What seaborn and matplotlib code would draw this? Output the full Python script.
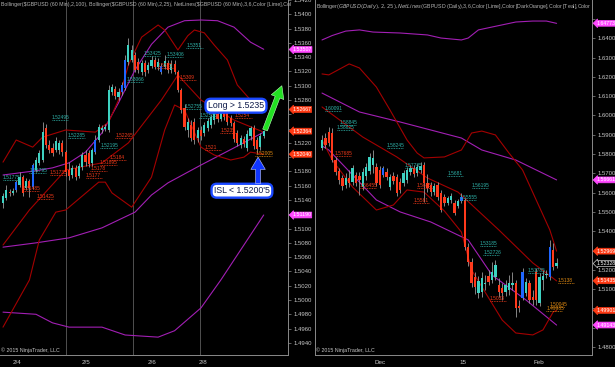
import numpy as np
import matplotlib
matplotlib.use("Agg")
import matplotlib.pyplot as plt
from matplotlib.ticker import FixedLocator, FuncFormatter
import seaborn as sns

# ---------------- LEFT: GBPUSD 60 Min ----------------
l_open = [1.5136,1.5143,1.5151,1.5150,1.5154,1.5161,1.5172,1.5157,1.5167,1.5158,
          1.5182,1.5192,1.5196,1.5241,1.5217,1.5213,1.5210,1.5210,1.5220,1.5207,
          1.5182,1.5175,1.5185,1.5174,1.5186,1.5203,1.5206,1.5192,1.5207,1.5224,
          1.5238,1.5239,1.5238,1.5291,1.5295,1.5284,1.5291,1.5297,1.5333,1.5336,
          1.5343,1.5333,1.5319,1.5332,1.5322,1.5328,1.5336,1.5326,1.5319,1.5326,
          1.5332,1.5322,1.5330,1.5319,1.5294,1.5269,1.5238,1.5245,1.5249,1.5227,
          1.5238,1.5234,1.5241,1.5245,1.5252,1.5260,1.5253,1.5263,1.5265,1.5255,
          1.5248,1.5234,1.5217,1.5225,1.5213,1.5230,1.5241,1.5224,1.5214,1.5230]
l_close = [1.5146,1.5154,1.5150,1.5153,1.5165,1.5172,1.5150,1.5167,1.5157,1.5189,
           1.5196,1.5206,1.5235,1.5217,1.5210,1.5206,1.5223,1.5220,1.5207,1.5179,
           1.5174,1.5185,1.5172,1.5188,1.5203,1.5193,1.5190,1.5210,1.5224,1.5242,
           1.5241,1.5242,1.5294,1.5298,1.5286,1.5291,1.5301,1.5336,1.5357,1.5350,
           1.5322,1.5322,1.5332,1.5319,1.5329,1.5336,1.5326,1.5333,1.5328,1.5335,
           1.5322,1.5330,1.5319,1.5294,1.5266,1.5242,1.5249,1.5227,1.5224,1.5238,
           1.5230,1.5245,1.5251,1.5256,1.5262,1.5253,1.5262,1.5256,1.5249,1.5248,
           1.5225,1.5220,1.5227,1.5218,1.5232,1.5241,1.5216,1.5211,1.5230,1.5236]
l_high = [1.5150,1.5161,1.5155,1.5157,1.5168,1.5179,1.5175,1.5171,1.5170,1.5192,
          1.5200,1.5210,1.5249,1.5246,1.5224,1.5220,1.5228,1.5224,1.5224,1.5210,
          1.5193,1.5189,1.5189,1.5192,1.5207,1.5210,1.5210,1.5213,1.5231,1.5246,
          1.5245,1.5246,1.5301,1.5302,1.5300,1.5297,1.5305,1.5343,1.5367,1.5357,
          1.5347,1.5339,1.5336,1.5336,1.5333,1.5342,1.5340,1.5339,1.5332,1.5343,
          1.5336,1.5336,1.5336,1.5322,1.5297,1.5274,1.5255,1.5252,1.5255,1.5242,
          1.5244,1.5249,1.5255,1.5260,1.5266,1.5265,1.5266,1.5269,1.5269,1.5259,
          1.5251,1.5238,1.5231,1.5230,1.5238,1.5244,1.5245,1.5228,1.5234,1.5238]
l_low = [1.5129,1.5140,1.5146,1.5147,1.5151,1.5158,1.5146,1.5154,1.5144,1.5155,
         1.5179,1.5189,1.5193,1.5213,1.5206,1.5202,1.5207,1.5204,1.5202,1.5174,
         1.5168,1.5171,1.5168,1.5171,1.5182,1.5188,1.5186,1.5188,1.5204,1.5221,
         1.5234,1.5237,1.5235,1.5287,1.5281,1.5280,1.5287,1.5294,1.5329,1.5333,
         1.5319,1.5318,1.5315,1.5314,1.5318,1.5325,1.5323,1.5322,1.5316,1.5323,
         1.5318,1.5318,1.5316,1.5291,1.5262,1.5238,1.5228,1.5223,1.5218,1.5221,
         1.5224,1.5230,1.5237,1.5241,1.5246,1.5249,1.5251,1.5252,1.5245,1.5244,
         1.5221,1.5216,1.5213,1.5214,1.5209,1.5224,1.5211,1.5206,1.5210,1.5227]
l_blue = [4, 9, 28, 36, 37, 48]

# Bollinger(2,100) - magenta
l_m_up_x = [0,5,10,15,20,25,30,35,40,45,50,55,60,65,70,75,79]
l_m_up = [1.5175,1.5178,1.5181,1.5185,1.5192,1.5207,1.5234,1.5276,1.5322,1.5358,
          1.5382,1.5391,1.5392,1.5391,1.5382,1.5361,1.5351]
l_m_mid_x = [0,10,20,30,40,45,50,60,70,79]
l_m_mid = [1.5074,1.5080,1.5087,1.5101,1.5123,1.5147,1.5164,1.5189,1.5213,1.5235]
l_m_lo_x = [0,10,15,20,30,37,47,52,60,66,72,79]
l_m_lo = [1.4983,1.4980,1.4968,1.4962,1.4962,1.4951,1.4948,1.4957,1.4989,1.5028,1.5070,1.5119]

# Bollinger(2,25) - dark red
l_up_x = [0,4,9,12,19,28,32,35,38,42,47,49,53,56,58,61,64,68,71,75,79]
l_up = [1.5193,1.5224,1.5214,1.5228,1.5238,1.5235,1.5249,1.5280,1.5329,1.5368,1.5385,
        1.5378,1.5350,1.5370,1.5378,1.5374,1.5357,1.5336,1.5301,1.5280,1.5267]
l_mid_x = [0,8,19,30,38,48,53,60,70,79]
l_mid = [1.5077,1.5126,1.5182,1.5192,1.5220,1.5280,1.5315,1.5280,1.5252,1.5235]
l_lo_x = [0,8,11,16,19,29,31,33,39,45,49,52,55,60,64,69,73,75,79]
l_lo = [1.4962,1.5028,1.5084,1.5123,1.5126,1.5165,1.5165,1.5150,1.5130,1.5172,1.5238,
        1.5273,1.5266,1.5214,1.5203,1.5196,1.5200,1.5207,1.5204]

# NetLines labels (bar, price, text, kind)
l_net_bar = [0, 14.8, 19.7, 8.0, 29.5, 42.5, 49.5, 55.5, 37.5, 55.0, 59.5,
             6, 10.3, 14.2, 26.4, 25, 32.4, 29.4, 34, 46.7, 53.6, 70.3, 65.8, 61.2, 76.4]
l_net_price = [1.5168, 1.5252, 1.5227, 1.5178, 1.5213, 1.5342, 1.5340, 1.5353, 1.5305, 1.5268, 1.5255,
               1.5153, 1.5141, 1.5175, 1.5181, 1.5171, 1.5196, 1.5189, 1.5227, 1.5325, 1.5308,
               1.5255, 1.5234, 1.5210, 1.5202]
l_net_text = ["1.51775", "1.52495", "1.52285", "1.51795", "1.52195", "1.53425", "1.53406", "1.5351",
              "1.53066", "1.52755", "1.52535",
              "1.51485", "1.51425", "1.51735", "1.5178", "1.5177", "1.5184", "1.51895", "1.52265",
              "1.5325", "1.5309", "1.5254", "1.5235", "1.521", "1.52005"]
l_net_kind = ["t"] * 11 + ["r"] * 13 + ["o"]

l_tags_price = [1.53507, 1.52667, 1.52364, 1.52040, 1.51190]
l_tags_text = ["1.53507", "1.52667", "1.52364", "1.52040", "1.51190"]
l_tags_kind = ["mag", "red", "red", "red", "mag"]

l_breaks = [19.1, 39.4, 59.7]
l_xtick_pos = [4.2, 25.2, 45.2, 60.6, 65.8]
l_xtick_lab = ["2/4", "2/5", "2/6", "2/8", ""]

# ---------------- RIGHT: GBPUSD Daily ----------------
r_open = [1.5831,1.5883,1.5914,1.5909,1.5769,1.5712,1.5676,1.5640,1.5676,1.5655,
          1.5692,1.5686,1.5629,1.5686,1.5712,1.5743,1.5733,1.5717,1.5692,1.5707,
          1.5629,1.5686,1.5681,1.5655,1.5650,1.5666,1.5707,1.5728,1.5702,1.5717,
          1.5743,1.5650,1.5640,1.5603,1.5640,1.5598,1.5577,1.5546,1.5562,1.5546,
          1.5531,1.5557,1.5562,1.5319,1.5241,1.5163,1.5080,1.5085,1.5127,1.5168,
          1.5148,1.5163,1.5122,1.5106,1.5085,1.5096,1.5122,1.5132,1.5013,1.5054,
          1.5080,1.5132,1.5060,1.5189,1.5028,1.5148,1.5173,1.5163,1.5303,1.5220]
r_close = [1.5873,1.5847,1.5857,1.5769,1.5707,1.5666,1.5635,1.5676,1.5650,1.5728,
           1.5650,1.5666,1.5707,1.5733,1.5785,1.5780,1.5650,1.5640,1.5728,1.5681,
           1.5681,1.5660,1.5598,1.5614,1.5702,1.5717,1.5728,1.5697,1.5733,1.5738,
           1.5650,1.5624,1.5603,1.5635,1.5577,1.5510,1.5546,1.5572,1.5583,1.5495,
           1.5557,1.5577,1.5319,1.5241,1.5132,1.5111,1.5142,1.5158,1.5132,1.5137,
           1.5189,1.5225,1.5085,1.5080,1.5122,1.5132,1.5132,1.5002,1.5002,1.5189,
           1.5137,1.5044,1.5044,1.5044,1.5163,1.5168,1.5179,1.5319,1.5215,1.5233]
r_high = [1.5899,1.5909,1.5940,1.5935,1.5785,1.5728,1.5692,1.5702,1.5717,1.5743,
          1.5707,1.5707,1.5728,1.5754,1.5806,1.5821,1.5754,1.5738,1.5738,1.5728,
          1.5697,1.5707,1.5697,1.5676,1.5717,1.5733,1.5743,1.5743,1.5748,1.5759,
          1.5759,1.5697,1.5655,1.5650,1.5655,1.5614,1.5593,1.5583,1.5598,1.5562,
          1.5567,1.5598,1.5572,1.5339,1.5262,1.5189,1.5168,1.5189,1.5173,1.5199,
          1.5241,1.5251,1.5158,1.5132,1.5148,1.5173,1.5189,1.5148,1.5044,1.5210,
          1.5158,1.5148,1.5096,1.5210,1.5184,1.5199,1.5199,1.5355,1.5339,1.5262]
r_low = [1.5821,1.5831,1.5842,1.5759,1.5692,1.5645,1.5614,1.5624,1.5629,1.5640,
         1.5635,1.5588,1.5614,1.5666,1.5697,1.5702,1.5635,1.5624,1.5681,1.5666,
         1.5614,1.5645,1.5583,1.5598,1.5635,1.5650,1.5692,1.5681,1.5686,1.5702,
         1.5552,1.5603,1.5583,1.5588,1.5562,1.5500,1.5531,1.5536,1.5546,1.5484,
         1.5521,1.5546,1.5303,1.5220,1.5111,1.5075,1.5054,1.5060,1.5096,1.5122,
         1.5132,1.5148,1.5060,1.5044,1.5065,1.5070,1.5096,1.4956,1.4982,1.5044,
         1.5065,1.5028,1.5018,1.5018,1.5013,1.5096,1.5158,1.5148,1.5199,1.5210]
r_blue = [18, 41, 59, 67]

r_m_up_x = [0,3,7,11,15,23,31,35,41,43,46,50,57,62,66,69]
r_m_up = [1.6391,1.6414,1.6437,1.6443,1.6432,1.6427,1.6417,1.6401,1.6391,1.6401,
          1.6443,1.6458,1.6484,1.6489,1.6489,1.6477]
r_m_mid_x = [0,11,23,41,47,57,69]
r_m_mid = [1.6116,1.6018,1.5966,1.5883,1.5821,1.5769,1.5666]
r_m_lo_x = [0,2,16,23,32,43,50,60,69]
r_m_lo = [1.5842,1.5821,1.5562,1.5500,1.5448,1.5355,1.5173,1.5044,1.4914]

r_up_x = [0,2,8,11,16,20,25,28,30,36,41,44,47,51,55,59,63,67,69]
r_up = [1.6215,1.6210,1.6267,1.6246,1.6147,1.6028,1.5873,1.5805,1.5780,1.5785,
        1.5821,1.5909,1.5919,1.5899,1.5805,1.5717,1.5562,1.5407,1.5297]
r_mid_x = [0,12,22,31,40,52,62,69]
r_mid = [1.6044,1.5888,1.5785,1.5676,1.5603,1.5407,1.5236,1.5143]
r_lo_x = [0,3,9,16,21,25,30,36,41,44,53,57,62,65,68,69]
r_lo = [1.5873,1.5769,1.5629,1.5510,1.5536,1.5614,1.5603,1.5505,1.5396,1.5199,
        1.4940,1.4873,1.4863,1.4889,1.4982,1.4990]

r_net_bar = [0.9, 5.3, 4.4, 19.1, 24.4, 36.8, 44.1, 40.6, 46.5, 47.4, 60.6,
             3.8, 11.2, 27.9, 26.8, 49.4, 69.4, 67, 66]
r_net_price = [1.6023, 1.5951, 1.5925, 1.5831, 1.5728, 1.5686, 1.5624, 1.5562, 1.5324, 1.5277, 1.5184,
               1.5790, 1.5624, 1.5624, 1.5546, 1.5039, 1.5132, 1.5008, 1.4987]
r_net_text = ["1.60091", "1.58845", "1.58625", "1.58245", "1.57785", "1.5681", "1.56195", "1.55555",
              "1.53185", "1.52726", "1.51785",
              "1.57685", "1.56455", "1.5615", "1.5561", "1.5033",
              "1.5138", "1.50045", "1.49985"]
r_net_kind = ["t"] * 11 + ["r"] * 5 + ["o"] * 3

r_tags_price = [1.64773, 1.56661, 1.52969, 1.52328, 1.51435, 1.49901, 1.49143]
r_tags_text = ["1.64773", "1.56661", "1.52969", "1.52328", "1.51435", "1.49901", "1.49143"]
r_tags_kind = ["mag", "mag", "red", "gray", "red", "red", "mag"]

r_xtick_pos = [17.1, 41.5, 63.8]
r_xtick_lab = ["Dec", "15", "Feb"]

left_title = ("Bollinger($GBPUSD (60 Min),2,100), Bollinger($GBPUSD (60 Min),2,25), "
              "NetLines($GBPUSD (60 Min),3,6,Color [Lime],Col")
right_title = ("Bollinger($GBPUSD (Daily),2,25), NetLines($GBPUSD (Daily),3,6,Color [Lime],"
               "Color [DarkOrange],Color [Teal],Color")

# ---------------- style ----------------
sns.set_style("dark", {"axes.facecolor": "black", "figure.facecolor": "black",
                       "axes.grid": False})
plt.rcParams['font.family'] = ['Liberation Sans', 'DejaVu Sans']

TEAL = "#3ED2C2"
RED = "#FF3A1C"
BLUE = "#1F66FF"
GRAYC = "#B0B0B0"
WICK = "#9A9A9A"
DRED = "#A30000"
MAG = "#A21FB4"
NETC = {"t": "#2FB3AA", "r": "#F23A1A", "o": "#E08A12"}
TXT = "#C8C8C8"

fig = plt.figure(figsize=(6.15, 3.67), dpi=100, facecolor="black")
axL = fig.add_axes([0 / 615, 12 / 367, 288 / 615, 355 / 367])
axR = fig.add_axes([315 / 615, 12 / 367, 277 / 615, 355 / 367])


def candles(ax, o, h, l, c, blue, width, minh):
    o = np.asarray(o); h = np.asarray(h); l = np.asarray(l); c = np.asarray(c)
    x = np.arange(len(o))
    cols = []
    for i in range(len(o)):
        if i in blue:
            cols.append(BLUE)
        elif c[i] > o[i]:
            cols.append(TEAL)
        elif c[i] < o[i]:
            cols.append(RED)
        else:
            cols.append(GRAYC)
    ax.vlines(x, l, h, color=WICK, lw=0.6, zorder=3)
    bottoms = np.minimum(o, c)
    heights = np.maximum(np.abs(c - o), minh)
    ax.bar(x, heights, width, bottoms, color=cols, linewidth=0, zorder=4)


def band(ax, xs, ys, color, lw=0.8):
    sns.lineplot(x=xs, y=ys, ax=ax, color=color, lw=lw, sort=False,
                 estimator=None, legend=False, zorder=2)


def netlabels(ax, bars, prices, texts, kinds, wbars):
    for b, p, t, k in zip(bars, prices, texts, kinds):
        ax.text(b, p, t, fontsize=3.5, color=NETC[k], ha="left", va="bottom", zorder=6,
                clip_on=True)
        ax.hlines(p, b, b + wbars, color=NETC[k], lw=0.6, linestyles=(0, (1, 1)), zorder=6)


def tags(ax, prices, texts, kinds):
    styles = {"mag": ("#FF48FF", "#FF48FF", "white"),
              "red": ("#FF3A14", "#FF3A14", "white"),
              "gray": ("black", "#D0D0D0", "white")}
    for p, t, k in zip(prices, texts, kinds):
        fc, ec, tc = styles[k]
        ax.annotate(t, xy=(1.0, p), xycoords=ax.get_yaxis_transform(),
                    xytext=(3.0, 0), textcoords="offset points", ha="left", va="center",
                    fontsize=3.8, color=tc, annotation_clip=False, zorder=20,
                    bbox=dict(boxstyle="larrow,pad=0.08", fc=fc, ec=ec, lw=0.5))


def style_axes(ax, ylim, xlim, yticks, xpos, xlab, left_spine, tag_prices):
    ax.set_facecolor("black")
    ax.set_ylim(*ylim)
    ax.set_xlim(*xlim)
    ax.yaxis.tick_right()
    ax.yaxis.set_major_locator(FixedLocator(yticks))
    thresh = 5.5 * (ylim[1] - ylim[0]) / 355.0

    def fmt(v, pos):
        for tp in tag_prices:
            if abs(v - tp) < thresh:
                return ""
        return "%.4f" % v
    ax.yaxis.set_major_formatter(FuncFormatter(fmt))
    ax.set_xticks(xpos)
    ax.set_xticklabels(xlab)
    ax.tick_params(axis="y", colors="#8A8A8A", labelcolor=TXT, labelsize=4.3,
                   length=2.5, width=0.5, pad=1.5, right=True, left=False)
    ax.tick_params(axis="x", colors="#8A8A8A", labelcolor=TXT, labelsize=4.5,
                   length=2.5, width=0.5, pad=1.0)
    ax.spines["top"].set_visible(False)
    ax.spines["left"].set_visible(left_spine)
    for s in ["right", "bottom", "left"]:
        ax.spines[s].set_color("#8A8A8A")
        ax.spines[s].set_linewidth(0.7)
    ax.set_xlabel("")
    ax.set_ylabel("")


# ---------------- left panel ----------------
style_axes(axL, (1.4923, 1.5420), (-0.91, 86.36),
           np.round(np.arange(1.4940, 1.54201, 0.002), 4), l_xtick_pos, l_xtick_lab, False,
           l_tags_price)
for b in l_breaks:
    axL.axvline(b, color="#505050", lw=0.7, zorder=1)
band(axL, l_m_up_x, l_m_up, MAG)
band(axL, l_m_mid_x, l_m_mid, MAG)
band(axL, l_m_lo_x, l_m_lo, MAG)
band(axL, l_up_x, l_up, DRED)
band(axL, l_mid_x, l_mid, DRED)
band(axL, l_lo_x, l_lo, DRED)
candles(axL, l_open, l_high, l_low, l_close, l_blue, 0.62, 0.00006)
netlabels(axL, l_net_bar, l_net_price, l_net_text, l_net_kind, 5.0)
tags(axL, l_tags_price, l_tags_text, l_tags_kind)

axL.text(0.003, 0.995, left_title, transform=axL.transAxes, fontsize=3.8, color="#B4B4B4",
         ha="left", va="top", zorder=7)
axL.text(0.003, 0.006, "\u00a9 2015 NinjaTrader, LLC", transform=axL.transAxes, fontsize=3.8,
         color=TXT, ha="left", va="bottom", zorder=7)

box_kw = dict(boxstyle="round,pad=0.28,rounding_size=0.6", fc="white", ec="#1A48FF", lw=1.7)
axL.text(70.6, 1.5272, "Long > 1.5235", fontsize=6.3, color="#0E1A4A", ha="center",
         va="center", bbox=box_kw, zorder=12)
axL.text(72.4, 1.5153, "ISL < 1.5200'5", fontsize=6.3, color="#0E1A4A", ha="center",
         va="center", bbox=box_kw, zorder=12)
axL.annotate("", xy=(84.5, 1.5300), xytext=(79.4, 1.5238),
             arrowprops=dict(arrowstyle="simple,head_length=1.1,head_width=1.2,tail_width=0.45",
                             fc="#22E022", ec="#B8FFB8", lw=0.4, mutation_scale=8,
                             shrinkA=0, shrinkB=0), zorder=12)
axL.annotate("", xy=(77.3, 1.5200), xytext=(77.3, 1.5163),
             arrowprops=dict(arrowstyle="simple,head_length=1.1,head_width=1.3,tail_width=0.45",
                             fc="#1036FF", ec="#C0C8FF", lw=0.4, mutation_scale=8,
                             shrinkA=0, shrinkB=0), zorder=12)

# ---------------- right panel ----------------
style_axes(axR, (1.4759, 1.6598), (-2.06, 79.41),
           np.round(np.arange(1.48, 1.6501, 0.01), 2), r_xtick_pos, r_xtick_lab, True,
           r_tags_price)
band(axR, r_m_up_x, r_m_up, MAG)
band(axR, r_m_mid_x, r_m_mid, MAG)
band(axR, r_m_lo_x, r_m_lo, MAG)
band(axR, r_up_x, r_up, DRED)
band(axR, r_mid_x, r_mid, DRED)
band(axR, r_lo_x, r_lo, DRED)
candles(axR, r_open, r_high, r_low, r_close, r_blue, 0.7, 0.0002)
netlabels(axR, r_net_bar, r_net_price, r_net_text, r_net_kind, 4.6)
tags(axR, r_tags_price, r_tags_text, r_tags_kind)

axR.text(0.004, 0.995, right_title, transform=axR.transAxes, fontsize=3.8, color="#B4B4B4",
         ha="left", va="top", zorder=7)
axR.text(0.004, 0.006, "\u00a9 2015 NinjaTrader, LLC", transform=axR.transAxes, fontsize=3.8,
         color=TXT, ha="left", va="bottom", zorder=7)

fig.savefig("out.png", dpi=100, facecolor="black")
